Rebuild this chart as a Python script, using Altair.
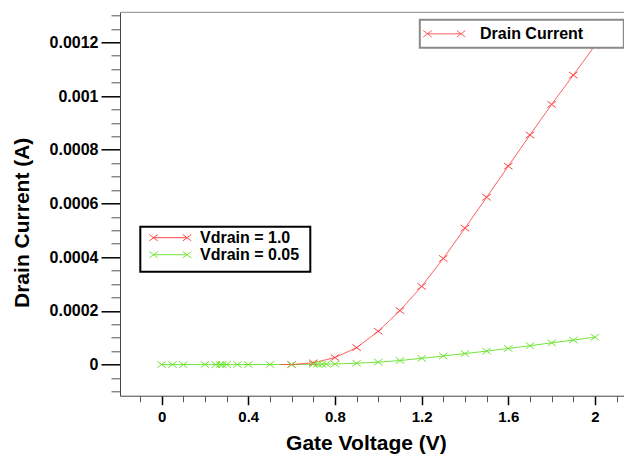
import altair as alt
import pandas as pd

# ---- data ----
series_names = ["Vdrain = 1.0", "Vdrain = 0.05"]
series_colors = ["#ff4545", "#73e639"]
legend_title_red = "Drain Current"

red_x = [0.55, 0.6, 0.7, 0.8, 0.9, 1.0, 1.1, 1.2, 1.3, 1.4, 1.5, 1.6, 1.7, 1.8, 1.9, 2.0]
red_y = [0.0, 0.0, 6.5e-6, 2.6e-5, 6.3e-5, 1.24e-4, 2.01e-4, 2.91e-4, 3.95e-4, 5.08e-4,
         6.23e-4, 7.39e-4, 8.55e-4, 9.69e-4, 1.078e-3, 1.188e-3]

green_x = [0, 0.05, 0.1, 0.2, 0.25, 0.27, 0.28, 0.3, 0.35, 0.4, 0.5, 0.6,
           0.7, 0.72, 0.74, 0.76,
           0.8, 0.9, 1.0, 1.1, 1.2, 1.3, 1.4, 1.5, 1.6, 1.7, 1.8, 1.9, 2.0]
green_y = [0, 0, 0, 0, 0, 0, 0, 0, 0, 0, 0, 0,
           1e-6, 1e-6, 1e-6, 1.5e-6,
           2e-6, 5e-6, 9e-6, 1.5e-5, 2.3e-5, 3.2e-5, 4.1e-5, 5.0e-5, 6.0e-5, 7.0e-5,
           8.1e-5, 9.1e-5, 1.02e-4]

x_major = [0, 0.4, 0.8, 1.2, 1.6, 2.0]
x_minor = [-0.1, 0.1, 0.2, 0.3, 0.5, 0.6, 0.7, 0.9, 1.0, 1.1, 1.3, 1.4, 1.5, 1.7, 1.8, 1.9, 2.1]
y_major = [0, 0.0002, 0.0004, 0.0006, 0.0008, 0.001, 0.0012]
y_minor = [-0.0001, -0.00005, 0.00005, 0.0001, 0.00015, 0.00025, 0.0003, 0.00035,
           0.00045, 0.0005, 0.00055, 0.00065, 0.0007, 0.00075, 0.00085, 0.0009,
           0.00095, 0.00105, 0.0011, 0.00115, 0.00125, 0.0013]

df_red = pd.DataFrame({"vg": red_x, "current": red_y, "series": series_names[0],
                       "label": legend_title_red})
df_green = pd.DataFrame({"vg": green_x, "current": green_y, "series": series_names[1]})
df_all = pd.concat([df_red, df_green], ignore_index=True)

FONT = "Liberation Sans"
W, H = 504, 383.4

xs = alt.Scale(domain=[-0.192, 2.134], nice=False, zero=False)
ys = alt.Scale(domain=[-0.000116, 0.001312], nice=False, zero=False)
color_scale = alt.Scale(domain=series_names, range=series_colors)

marker_path = "M-1,-0.75L1,0.75M-1,0.75L1,-0.75"
legend_path = ("M-3.35,0L3.35,0M-4.2,-0.64L-2.5,0.64M-4.2,0.64L-2.5,-0.64"
               "M2.5,-0.64L4.2,0.64M2.5,0.64L4.2,-0.64")

x_axis_major = alt.Axis(values=x_major, format="~g", orient="bottom", grid=False,
                        tickSize=9, tickWidth=1.5, tickColor="black",
                        domainColor="#444", domainWidth=1,
                        labelFont=FONT, labelFontSize=15, labelFontWeight="bold",
                        labelColor="black", labelPadding=5, labelFlush=False,
                        labelOverlap=False,
                        title="Gate Voltage (V)", titleFont=FONT, titleFontSize=21,
                        titleFontWeight="bold", titleColor="black",
                        titleX=245.9, titleY=53.8, titleAlign="center",
                        titleBaseline="alphabetic")
y_axis_major = alt.Axis(values=y_major, format="~g", orient="left", grid=False,
                        tickSize=19, tickWidth=1.5, tickColor="black",
                        domainColor="#444", domainWidth=1,
                        labelFont=FONT, labelFontSize=16, labelFontWeight="bold",
                        labelColor="black", labelPadding=3, labelFlush=False,
                        labelOverlap=False,
                        title="Drain Current (A)", titleFont=FONT, titleFontSize=21,
                        titleFontWeight="bold", titleColor="black",
                        titleAngle=270, titleX=-92, titleY=210, titleAlign="center",
                        titleBaseline="alphabetic")
x_axis_minor = alt.Axis(values=x_minor, orient="bottom", grid=False, labels=False,
                        domain=False, tickSize=6, tickWidth=1, tickColor="#555",
                        title=None)
y_axis_minor = alt.Axis(values=y_minor, orient="left", grid=False, labels=False,
                        domain=False, tickSize=9, tickWidth=1, tickColor="#555",
                        title=None)

legend_vd = alt.Legend(title=[" ", " ", " "], titleOrient="right", titleFontSize=5,
                       titleLineHeight=16.8, titlePadding=8, titleBaseline="top",
                       orient="none", legendX=20.3, legendY=214.4,
                       symbolType=legend_path, symbolSize=100, symbolStrokeWidth=1,
                       symbolFillColor="transparent",
                       labelFont=FONT, labelFontSize=16, labelFontWeight="bold",
                       labelColor="black", labelOffset=21.7, symbolOffset=19,
                       rowPadding=1, padding=3, strokeColor="black", fillColor="white")

legend_dc = alt.Legend(title=" ", titleOrient="right", titleFontSize=5, titlePadding=35,
                       orient="none", legendX=299.8, legendY=7.5,
                       symbolType=legend_path, symbolSize=100, symbolStrokeWidth=1,
                       symbolStrokeColor=series_colors[0], symbolFillColor="transparent",
                       labelFont=FONT, labelFontSize=16, labelFontWeight="bold",
                       labelColor="black", labelOffset=27.7, symbolOffset=10.5,
                       padding=6, strokeColor="#8a8a8a", fillColor="white")

frame = alt.Chart(pd.DataFrame({"k": [0]})).mark_rule(color="#888", strokeWidth=1).encode(
    x=alt.value(0), x2=alt.value(W), y=alt.value(0))

green_line = alt.Chart(df_green).mark_line(strokeWidth=1).encode(
    x=alt.X("vg:Q", scale=xs, axis=x_axis_major),
    y=alt.Y("current:Q", scale=ys, axis=y_axis_major),
    color=alt.Color("series:N", scale=color_scale, legend=legend_vd),
)

red_line = alt.Chart(df_red).mark_line(strokeWidth=1, color=series_colors[0]).encode(
    x=alt.X("vg:Q", scale=xs, axis=None),
    y=alt.Y("current:Q", scale=ys, axis=None),
    strokeDash=alt.StrokeDash("label:N", scale=alt.Scale(domain=[legend_title_red], range=[[1, 0]]),
                              legend=legend_dc),
)

points = alt.Chart(df_all).transform_filter(
    "datum.series == 'Vdrain = 0.05' || datum.vg >= 0.58"
).mark_point(shape=marker_path, size=72, filled=False, strokeWidth=1, opacity=1).encode(
    x=alt.X("vg:Q", scale=xs, axis=None),
    y=alt.Y("current:Q", scale=ys, axis=None),
    color=alt.Color("series:N", scale=color_scale, legend=None),
)

minor = alt.Chart(df_green).mark_point(opacity=0).encode(
    x=alt.X("vg:Q", scale=xs, axis=x_axis_minor),
    y=alt.Y("current:Q", scale=ys, axis=y_axis_minor),
)

chart = alt.layer(frame, green_line, red_line, points, minor).resolve_scale(
    x="shared", y="shared"
).resolve_axis(
    x="independent", y="independent"
).properties(
    width=W, height=H,
    autosize=alt.AutoSizeParams(type="none"),
    padding={"left": 112, "top": 4.3, "right": 0, "bottom": 60.3},
    background="white",
).configure_view(stroke=None).configure_legend(strokeWidth=2)

chart.save("out.html", embed_options={"renderer": "svg", "actions": False})
